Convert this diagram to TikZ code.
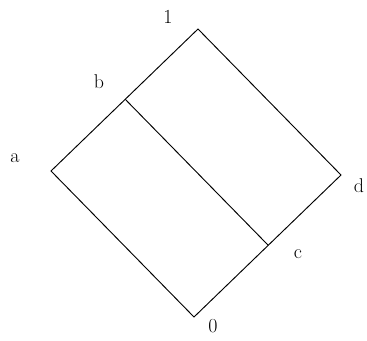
\documentclass[tikz,border=0pt]{standalone}
\usetikzlibrary{positioning,calc}
\begin{document}
\begin{tikzpicture}[x=0.03cm,y=-0.03cm,line width=0.8pt,
  lbl/.style={font=\fontsize{17}{19}\selectfont,inner sep=0pt}]
  \useasboundingbox (0,0) rectangle (367,341);
  \coordinate (top) at (198,29);
  \coordinate (left) at (51,171);
  \coordinate (bot) at (194,317);
  \coordinate (right) at (341,175);
  \coordinate (pb) at ($(left)!0.505!(top)$);
  \coordinate (pc) at ($(bot)!0.505!(right)$);
  \draw (top) -- (right) -- (bot) -- (left) -- cycle;
  \draw (pb) -- (pc);
  \node[lbl] (l1) at (168,17) {1};
  \node[lbl] (lb) at (99,82) {b};
  \node[lbl] (la) at (15,158) {a};
  \node[lbl] (ld) at (359,186) {d};
  \node[lbl] (lc) at (298,254) {c};
  \node[lbl] (l0) at (213,326) {0};
\end{tikzpicture}
\end{document}
